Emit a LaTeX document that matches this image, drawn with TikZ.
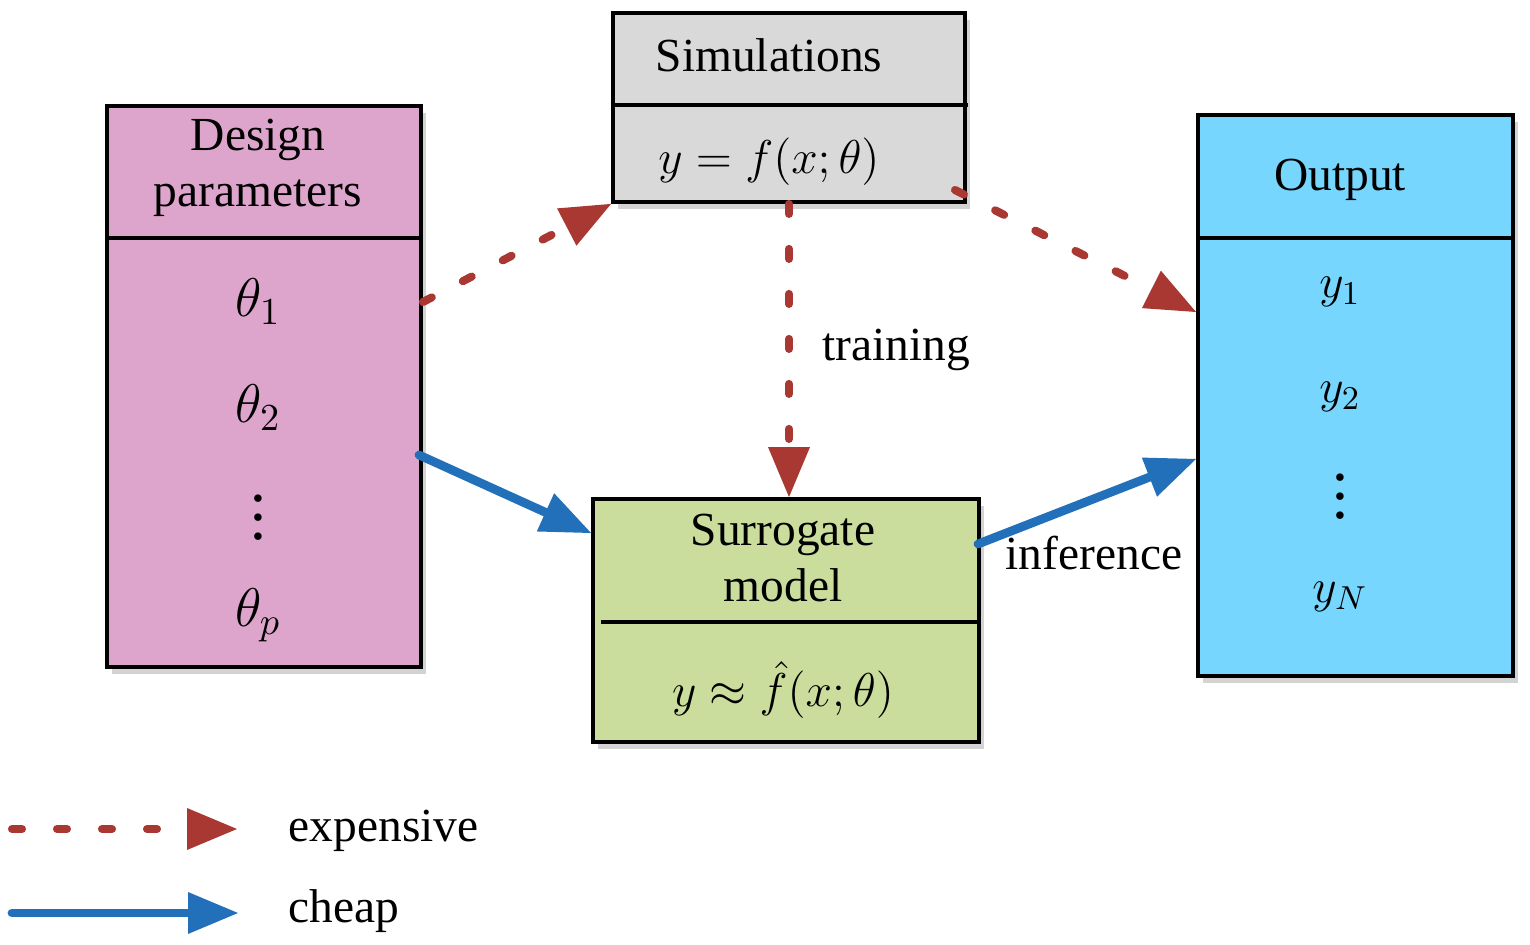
\RequirePackage{fix-cm}
\documentclass[tikz,border=0pt]{standalone}
\usepackage{amsmath}
\usepackage{fontspec}
\setmainfont{Liberation Serif}
\usepackage{xcolor}
\usepackage{tikz}
\usetikzlibrary{arrows.meta,positioning,shadows}

\definecolor{designpink}{HTML}{DEA5CC}
\definecolor{simgray}{HTML}{D9D9D9}
\definecolor{outcyan}{HTML}{76D6FD}
\definecolor{surrgreen}{HTML}{CADD9C}
\definecolor{costred}{HTML}{A93833}
\definecolor{cheapblue}{HTML}{2270BA}

\newcommand{\tallvdots}{\vbox{\baselineskip=0.19cm\lineskiplimit=-1cm\hbox{.}\hbox{.}\hbox{.}}}

\tikzset{
	boxnode/.style={draw=black,line width=1.1pt,rectangle,inner sep=0pt,
		drop shadow={shadow xshift=1.5pt,shadow yshift=-2pt,opacity=0.35}},
	lbl/.style={font=\fontsize{13.5}{16}\selectfont,inner sep=0pt,align=center},
	biglbl/.style={font=\fontsize{15.5}{18}\selectfont,inner sep=0pt,align=center},
	dotlbl/.style={font=\fontsize{18}{18}\selectfont,inner sep=0pt},
	expensive/.style={draw=costred,line width=2.3pt,line cap=round,
		dash pattern=on 0.1cm off 0.35cm,
		-{Triangle[length=0.5cm,width=0.42cm,fill=costred,line width=0pt,sep=0pt]}},
	cheaparrow/.style={draw=cheapblue,line width=2.5pt,line cap=round,
		-{Triangle[length=0.5cm,width=0.42cm,fill=cheapblue,line width=0pt]}}
}

\begin{document}
\begin{tikzpicture}
	\useasboundingbox (0,0) rectangle (15.3,-9.45);
	% boxes
	\node[boxnode,fill=designpink,minimum width=3.14cm,minimum height=5.61cm] (design) at (2.64,-3.865) {};
	\node[boxnode,fill=simgray,minimum width=3.52cm,minimum height=1.89cm] (sim) at (7.89,-1.075) {};
	\node[boxnode,fill=outcyan,minimum width=3.15cm,minimum height=5.61cm] (output) at (13.555,-3.955) {};
	\node[boxnode,fill=surrgreen,minimum width=3.86cm,minimum height=2.43cm] (surr) at (7.86,-6.205) {};
	\draw[line width=1.1pt] (1.07,-2.38) -- (4.21,-2.38);
	\draw[line width=1.1pt] (6.13,-1.05) -- (9.68,-1.05);
	\draw[line width=1.1pt] (11.98,-2.38) -- (15.13,-2.38);
	\draw[line width=1.1pt] (6.01,-6.22) -- (9.81,-6.22);
	% design parameters
	\node[lbl] (dhead) at (2.58,-1.68) {Design\\parameters};
	\node[biglbl] (th1) at (2.58,-3.02) {$\theta_1$};
	\node[biglbl] (th2) at (2.58,-4.08) {$\theta_2$};
	\node[dotlbl] (thdots) at (2.58,-5.18) {\tallvdots};
	\node[biglbl] (thp) at (2.58,-6.15) {$\theta_p$};
	% simulations
	\node[lbl] (shead) at (7.69,-0.55) {Simulations};
	\node[lbl] (sform) at (7.69,-1.62) {$y=f(x;\theta)$};
	% output
	\node[lbl] (ohead) at (13.4,-1.80) {Output};
	\node[lbl] (y1) at (13.4,-2.92) {$y_1$};
	\node[lbl] (y2) at (13.4,-3.97) {$y_2$};
	\node[dotlbl] (ydots) at (13.4,-4.97) {\tallvdots};
	\node[lbl] (yN) at (13.4,-5.97) {$y_N$};
	% surrogate
	\node[lbl] (mhead) at (7.83,-5.58) {Surrogate\\model};
	\node[lbl] (mform) at (7.83,-6.90) {$y\approx\hat{f}(x;\theta)$};
	% connectors
	\coordinate (simout) at (9.55,-1.90);
	\coordinate (outtop) at (11.96,-3.12);
	\coordinate (desout) at (4.19,-4.55);
	\coordinate (surrin) at (5.91,-5.33);
	\coordinate (surrout) at (9.78,-5.44);
	\coordinate (outlow) at (11.96,-4.59);
	\draw[expensive] (design.east |- th1) -- (sim.south west);
	\draw[expensive] (simout) -- (outtop);
	\draw[expensive] (sim.south) -- (sim.south |- surr.north);
	\draw[cheaparrow] (desout) -- (surrin);
	\draw[cheaparrow] (surrout) -- (outlow);
	\node[lbl,anchor=west] (train) at (8.22,-3.50) {training};
	\node[lbl,anchor=west] (infer) at (10.05,-5.53) {inference};
	% legend
	\coordinate (e0) at (0.12,-8.29);
	\coordinate (e1) at (2.37,-8.29);
	\coordinate (c0) at (0.12,-9.13);
	\coordinate (c1) at (2.38,-9.13);
	\draw[expensive] (e0) -- (e1);
	\draw[cheaparrow] (c0) -- (c1);
	\node[lbl,anchor=west] (explbl) at (2.88,-8.31) {expensive};
	\node[lbl,anchor=west] (cheaplbl) at (2.88,-9.11) {cheap};
\end{tikzpicture}
\end{document}
